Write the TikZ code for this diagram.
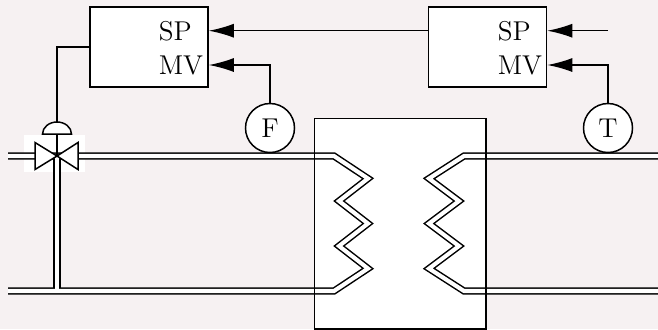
\documentclass[tikz,border=0pt]{standalone}
\usetikzlibrary{arrows.meta}
\definecolor{slidebg}{RGB}{246,241,242}
\begin{document}
\begin{tikzpicture}
    [
        x=0.5pt, y=-0.5pt,
        line width=0.75pt,
        ctrl/.style={draw, fill=white, minimum width=59pt, minimum height=40pt, inner sep=0pt,},
        sensor/.style={circle, draw, fill=white, minimum size=24.5pt, inner sep=0pt,},
        lbl/.style={anchor=base west, inner sep=0pt,},
        sig/.style={-{Latex[length=12.5pt,width=7pt]},},
        pipeout/.style={line width=3.55pt, line join=miter,},
        pipein/.style={white, line width=2.05pt, line join=miter,},
        font=\fontsize{13.6}{16}\selectfont,
    ]

    \fill [slidebg] (0,0) rectangle (658,329);
    \useasboundingbox (0,0) rectangle (658,329);

    % heat exchanger and valve
    \node (hx) at (400,223.5) [fill=white, minimum width=85pt, minimum height=104.5pt] {};
    \fill [white] (24,135) rectangle (85,172);
    \coordinate (v) at (57,156);
    \coordinate (act) at (57,134);
    \coordinate (acttop) at (57,122);

    % pipes
    \foreach \s in {pipeout,pipein}
    {
        \draw [\s] (8,156) -- (v) -- (334,156) -- (368,178.5) -- (339,201) -- (368,223.5)
            -- (339,246) -- (368,268.5) -- (334,291) -- (8,291);
        \draw [\s] (v) -- (57,291);
        \draw [\s] (658,156) -- (464,156) -- (429,178.5) -- (459,201) -- (429,223.5)
            -- (459,246) -- (429,268.5) -- (464,291) -- (658,291);
    }
    \draw (hx.south west) rectangle (hx.north east);

    \draw [fill=white] (v) -- ++(-22,-13.5) -- ++(0,27) -- cycle;
    \draw [fill=white] (v) -- ++(21,-13.5) -- ++(0,27) -- cycle;
    \draw (act) -- (v);
    \draw [fill=white] (act) ++(-14.5,0) arc [start angle=180, end angle=360, x radius=14.5, y radius=12] -- cycle;

    % controllers and sensors
    \node (lc) at (149,47)   [ctrl] {};
    \node (rc) at (487.5,47) [ctrl] {};
    \node (f) at (270,128)   [sensor] {F};
    \node (t) at (608,128)   [sensor] {T};

    \node (lcsp) at (158,40) [lbl] {SP};
    \node (lcmv) at (158,74) [lbl] {MV};
    \node (rcsp) at (497,40) [lbl] {SP};
    \node (rcmv) at (497,74) [lbl] {MV};

    \draw [sig] (rc.west |- lcsp.west) -- (lc.east |- lcsp.west);
    \draw [sig] (f.north) |- (lc.east |- lcmv.west);
    \draw [sig] (t.north |- rcsp.west) -- (rc.east |- rcsp.west);
    \draw [sig] (t.north) |- (rc.east |- rcmv.west);
    \draw (lc.west) -| (acttop);

\end{tikzpicture}
\end{document}
